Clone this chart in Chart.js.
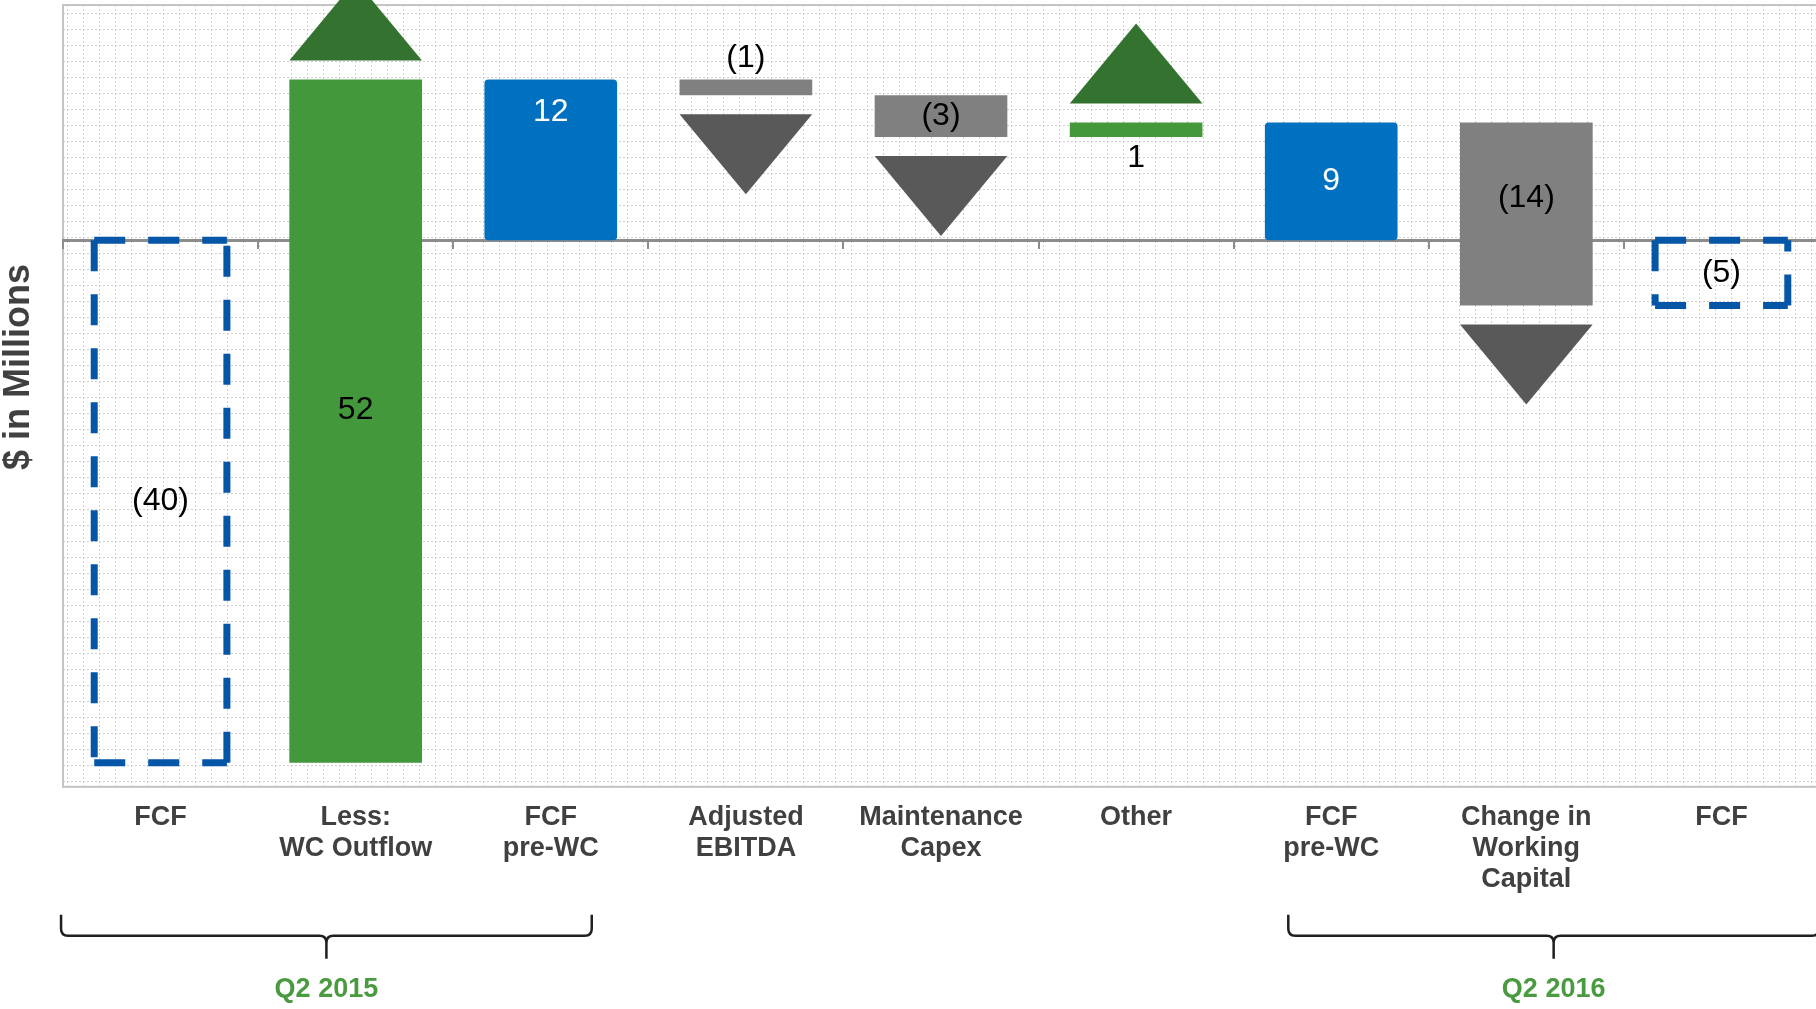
<!DOCTYPE html>
<html>
<head>
<meta charset="utf-8">
<script src="https://cdn.jsdelivr.net/npm/chart.js@4.4.1/dist/chart.umd.min.js"></script>
<style>
html, body { margin: 0; padding: 0; background: #ffffff; overflow: hidden; }
canvas { display: block; }
</style>
</head>
<body>
<canvas id="chart" width="1822" height="1009"></canvas>
<script>
// ---------------- data ----------------
const categories = [
  ['FCF'], ['Less:', 'WC Outflow'], ['FCF', 'pre-WC'], ['Adjusted', 'EBITDA'],
  ['Maintenance', 'Capex'], ['Other'], ['FCF', 'pre-WC'], ['Change in', 'Working', 'Capital'], ['FCF']
];
const stepValues = [-40.0, 52.3, 12.3, -1.2, -3.2, 1.1, 9.0, -14.0, -5.0];
const stepKinds = ['period', 'change', 'subtotal', 'change', 'change', 'change', 'subtotal', 'change', 'period'];
const valueLabels = ['(40)', '52', '12', '(1)', '(3)', '1', '9', '(14)', '(5)'];
const axisTitle = '$ in Millions';
const yMin = -41.85;
const yMax = 18;
const periodNames = ['Q2 2015', 'Q2 2016'];
const periodFirstIndex = [0, 6];
const periodLastIndex = [2, 8];

// floating ranges built from the steps
let running = 0;
const ranges = stepValues.map((v, i) => {
  if (stepKinds[i] === 'change') { const r = [running, running + v]; running += v; return r; }
  running = v;
  return [0, v];
});

// ---------------- styles ----------------
const FONT = '"Liberation Sans", Arial, sans-serif';
const COLORS = {
  subtotal: '#0070C0', up: '#43983B', down: '#808080',
  upArrow: '#33722F', downArrow: '#595959', outline: '#0656A8',
  axisText: '#404040', period: '#4A9A40', zero: '#8c8c8c'
};
function barColor(i) {
  const k = stepKinds[i];
  if (k === 'subtotal') return COLORS.subtotal;
  if (k === 'period') return 'rgba(0,0,0,0)';
  return stepValues[i] >= 0 ? COLORS.up : COLORS.down;
}
function geom(el) {
  const p = el.getProps(['x', 'y', 'base', 'width'], true);
  return { x: p.x, w: p.width, top: Math.min(p.y, p.base), bottom: Math.max(p.y, p.base) };
}

const patternPlugin = {
  id: 'plotPattern',
  beforeDraw(chart) {
    const { ctx, chartArea: a } = chart;
    ctx.save();
    ctx.fillStyle = '#ffffff';
    ctx.fillRect(0, 0, chart.width, chart.height);
    ctx.beginPath();
    ctx.rect(a.left, a.top, a.right - a.left, a.bottom - a.top);
    ctx.clip();
    ctx.strokeStyle = '#cfcfcf';
    ctx.lineWidth = 1;
    ctx.setLineDash([2, 2]);
    ctx.beginPath();
    for (let x = a.left + 4.5; x < a.right; x += 16) { ctx.moveTo(x, a.top); ctx.lineTo(x, a.bottom); }
    for (let y = a.top + 8.5; y < a.bottom; y += 16) { ctx.moveTo(a.left, y); ctx.lineTo(a.right, y); }
    ctx.stroke();
    ctx.restore();
    ctx.save();
    ctx.strokeStyle = '#c4c4c4';
    ctx.lineWidth = 2;
    ctx.strokeRect(a.left, a.top, a.right - a.left, a.bottom - a.top);
    ctx.restore();
  }
};

const titlePlugin = {
  id: 'yTitle',
  afterDraw(chart, args, opts) {
    const { ctx, chartArea: a } = chart;
    ctx.save();
    ctx.translate(opts.x, (a.top + a.bottom) / 2 + opts.shift);
    ctx.rotate(-Math.PI / 2);
    ctx.fillStyle = COLORS.axisText;
    ctx.font = 'bold ' + opts.size + 'px ' + FONT;
    ctx.textAlign = 'center';
    ctx.textBaseline = 'middle';
    ctx.fillText(axisTitle, 0, 0);
    ctx.restore();
  }
};

const arrowPlugin = {
  id: 'stepArrows',
  afterDatasetsDraw(chart, args, opts) {
    const ctx = chart.ctx;
    chart.getDatasetMeta(0).data.forEach((el, i) => {
      if (stepKinds[i] !== 'change') return;
      const g = geom(el);
      const half = g.w / 2;
      const up = stepValues[i] > 0;
      ctx.save();
      ctx.fillStyle = up ? COLORS.upArrow : COLORS.downArrow;
      ctx.beginPath();
      if (up) {
        const b = g.top - opts.gap;
        ctx.moveTo(g.x - half, b); ctx.lineTo(g.x + half, b); ctx.lineTo(g.x, b - opts.height);
      } else {
        const b = g.bottom + opts.gap;
        ctx.moveTo(g.x - half, b); ctx.lineTo(g.x + half, b); ctx.lineTo(g.x, b + opts.height);
      }
      ctx.closePath();
      ctx.fill();
      ctx.restore();
    });
  }
};

const outlinePlugin = {
  id: 'periodOutline',
  afterDraw(chart, args, opts) {
    const ctx = chart.ctx;
    chart.getDatasetMeta(0).data.forEach((el, i) => {
      if (stepKinds[i] !== 'period') return;
      const g = geom(el);
      const l = g.x - g.w / 2, r = g.x + g.w / 2, t = g.top, b = g.bottom;
      ctx.save();
      ctx.strokeStyle = COLORS.outline;
      ctx.lineWidth = opts.width;
      ctx.setLineDash(opts.dash);
      ctx.lineCap = 'butt';
      [[l, t, r, t], [l, t, l, b], [l, b, r, b], [r, b, r, t]].forEach(s => {
        ctx.beginPath(); ctx.moveTo(s[0], s[1]); ctx.lineTo(s[2], s[3]); ctx.stroke();
      });
      ctx.restore();
    });
  }
};

const labelPlugin = {
  id: 'stepLabels',
  afterDraw(chart, args, opts) {
    const ctx = chart.ctx;
    chart.getDatasetMeta(0).data.forEach((el, i) => {
      const g = geom(el);
      const place = opts.placement[i];
      let y;
      if (place === 'top') y = g.top + opts.topInset;
      else if (place === 'outside') y = stepValues[i] < 0 ? g.top - opts.outsideGap : g.bottom + opts.outsideGap;
      else y = (g.top + g.bottom) / 2;
      y += opts.nudge[i];
      ctx.save();
      ctx.fillStyle = stepKinds[i] === 'subtotal' ? '#ffffff' : '#000000';
      ctx.font = opts.size + 'px ' + FONT;
      ctx.textAlign = 'center';
      ctx.textBaseline = 'middle';
      ctx.fillText(valueLabels[i], g.x, y);
      ctx.restore();
    });
  }
};

const bracePlugin = {
  id: 'periodBraces',
  afterDraw(chart, args, opts) {
    const ctx = chart.ctx;
    const xs = chart.scales.x;
    const base = chart.chartArea.bottom;
    periodNames.forEach((name, k) => {
      const l = xs.getPixelForValue(periodFirstIndex[k] - 0.5 + opts.inset[k][0]);
      const r = xs.getPixelForValue(periodLastIndex[k] + 0.5 + opts.inset[k][1]);
      const cx = (l + r) / 2;
      const yTop = base + opts.top, yMid = base + opts.mid, yTip = base + opts.tip, rad = 7;
      ctx.save();
      ctx.strokeStyle = '#1f1f1f';
      ctx.lineWidth = 2.5;
      ctx.beginPath();
      ctx.moveTo(l, yTop); ctx.lineTo(l, yMid - rad);
      ctx.quadraticCurveTo(l, yMid, l + rad, yMid); ctx.lineTo(cx - rad, yMid);
      ctx.quadraticCurveTo(cx, yMid, cx, yMid + rad); ctx.lineTo(cx, yTip);
      ctx.moveTo(r, yTop); ctx.lineTo(r, yMid - rad);
      ctx.quadraticCurveTo(r, yMid, r - rad, yMid); ctx.lineTo(cx + rad, yMid);
      ctx.quadraticCurveTo(cx, yMid, cx, yMid + rad);
      ctx.stroke();
      ctx.fillStyle = COLORS.period;
      ctx.font = 'bold 27px ' + FONT;
      ctx.textAlign = 'center';
      ctx.textBaseline = 'middle';
      ctx.fillText(name, cx, base + opts.label);
      ctx.restore();
    });
  }
};

new Chart(document.getElementById('chart'), {
  type: 'bar',
  data: {
    labels: categories,
    datasets: [{
      data: ranges,
      xAxisID: 'x',
      yAxisID: 'y',
      backgroundColor: ctx => barColor(ctx.dataIndex),
      borderWidth: 0,
      borderRadius: ctx => (stepKinds[ctx.dataIndex] === 'subtotal' ? 4 : 0),
      borderSkipped: false,
      barPercentage: 1,
      categoryPercentage: 0.68
    }]
  },
  options: {
    responsive: false,
    animation: false,
    layout: { padding: { top: 5, right: 3, bottom: 99, left: 63 } },
    plugins: {
      legend: { display: false },
      tooltip: { enabled: false },
      yTitle: { x: 19, shift: -29, size: 36 },
      stepArrows: { gap: 19, height: 80 },
      periodOutline: { width: 7, dash: [31, 23] },
      stepLabels: { size: 32, topInset: 33, outsideGap: 21,
        placement: ['center', 'center', 'top', 'outside', 'center', 'outside', 'center', 'center', 'center'],
        nudge: [0, -11, 0, 0, 0, 0, 0, -16, 0] },
      periodBraces: { inset: [[-0.01, -0.29], [0.28, 0]], top: 128, mid: 149, tip: 172, label: 203 }
    },
    scales: {
      x: {
        type: 'category',
        position: 'bottom',
        offset: true,
        grid: { display: false, drawTicks: false },
        border: { display: false },
        ticks: {
          color: COLORS.axisText,
          font: { family: FONT, size: 27, weight: 'bold', lineHeight: 1.15 },
          padding: 15, maxRotation: 0, minRotation: 0, autoSkip: false
        }
      },
      zero: {
        axis: 'x',
        type: 'category',
        position: { y: 0 },
        offset: true,
        z: 1,
        grid: { offset: true, drawOnChartArea: false, drawTicks: true, tickLength: 7, color: COLORS.zero, lineWidth: 2 },
        border: { display: true, color: COLORS.zero, width: 3 },
        ticks: { display: false }
      },
      y: {
        display: false,
        min: yMin,
        max: yMax
      }
    }
  },
  plugins: [patternPlugin, arrowPlugin, outlinePlugin, labelPlugin, bracePlugin, titlePlugin]
});
</script>
</body>
</html>
